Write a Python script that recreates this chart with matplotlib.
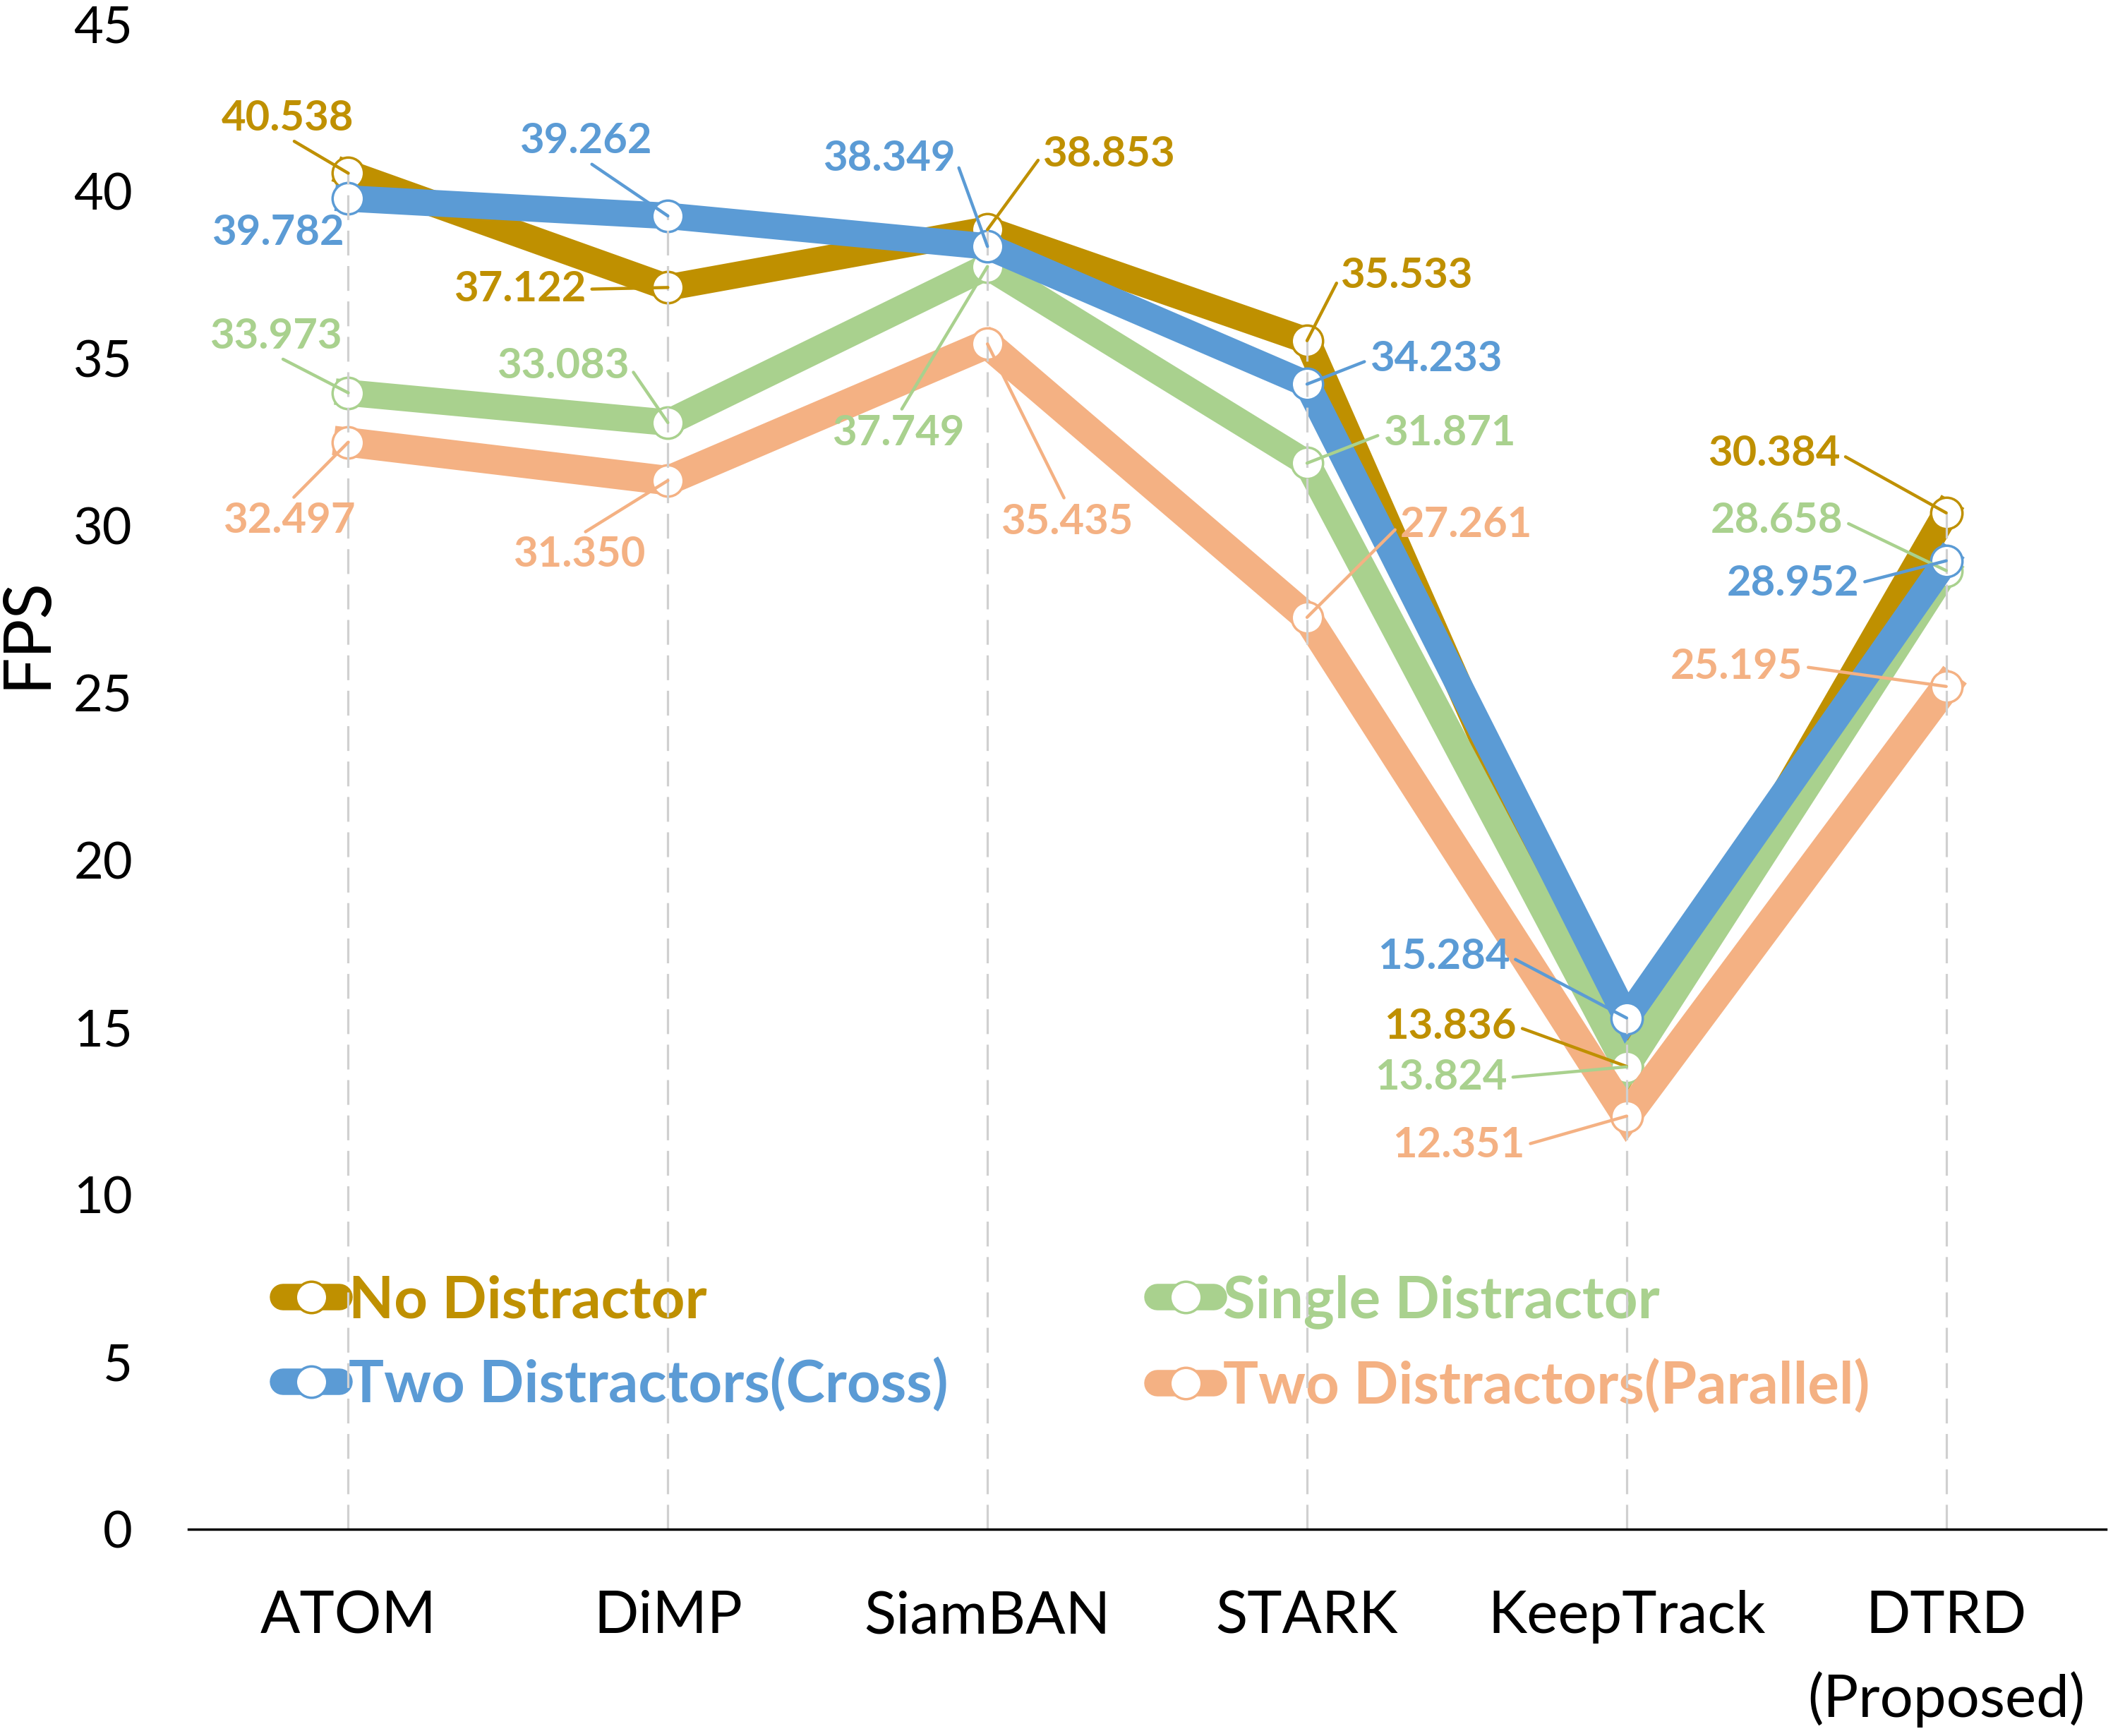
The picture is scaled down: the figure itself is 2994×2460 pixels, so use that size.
import matplotlib
matplotlib.use('Agg')
import matplotlib.pyplot as plt
from matplotlib.lines import Line2D

plt.rcParams['font.family'] = ['Lato', 'DejaVu Sans']

# data
methods = ['ATOM', 'DiMP', 'SiamBAN', 'STARK', 'KeepTrack', 'DTRD\n(Proposed)']
no_distractor = [40.538, 37.122, 38.853, 35.533, 13.836, 30.384]
single_distractor = [33.973, 33.083, 37.749, 31.871, 13.824, 28.658]
two_cross = [39.782, 39.262, 38.349, 34.233, 15.284, 28.952]
two_parallel = [32.497, 31.350, 35.435, 27.261, 12.351, 25.195]
series_names = ['No Distractor', 'Single Distractor',
                'Two Distractors(Cross)', 'Two Distractors(Parallel)']
yticks = [0, 5, 10, 15, 20, 25, 30, 35, 40, 45]

# style
c_gold = '#BF9000'
c_green = '#A9D18E'
c_blue = '#5B9BD5'
c_orange = '#F4B183'

# label placement (x, y, leader anchor on the text box)
gold_lbl = [(-0.19, 42.18, (0.5, 0)), (0.537, 37.07, (1, 0.5)), (2.379, 41.1, (0, 0.5)),
            (3.311, 37.47, (0, 0.5)), (3.449, 15.03, (1, 0.5)), (4.461, 32.15, (1, 0.5))]
green_lbl = [(-0.227, 35.66, (0.5, 0)), (0.672, 34.77, (1, 0.5)), (1.722, 32.76, (0.5, 1)),
             (3.446, 32.76, (0, 0.5)), (3.419, 13.5, (1, 0.5)), (4.47, 30.14, (1, 0.5))]
blue_lbl = [(-0.219, 38.76, None), (0.743, 41.5, (0.5, 0)), (1.693, 40.97, (1, 0.5)),
            (3.404, 34.97, (0, 0.5)), (3.428, 17.12, (1, 0.5)), (4.52, 28.28, (1, 0.5))]
orange_lbl = [(-0.185, 30.14, (0.5, 1)), (0.722, 29.13, (0.5, 1)), (2.248, 30.1, (0.5, 1)),
              (3.497, 30.02, (0, 0.5)), (3.474, 11.48, (1, 0.5)), (4.343, 25.79, (1, 0.5))]

fig = plt.figure(figsize=(29.94, 24.6), dpi=100)
ax = fig.add_axes([0.0892, 0.1191, 0.9075, 0.8671])

x = list(range(len(methods)))
series = [
    (no_distractor, c_gold, 27, 3, gold_lbl),
    (single_distractor, c_green, 27, 4, green_lbl),
    (two_cross, c_blue, 27, 5, blue_lbl),
    (two_parallel, c_orange, 30, 6, orange_lbl),
]

for vals, col, lw, z, lbls in series:
    ax.plot(x, vals, color=col, lw=lw, marker='o', ms=32, mfc='white',
            mec=col, mew=2.5, zorder=z, solid_joinstyle='miter')
    for i, v in enumerate(vals):
        lx, ly, rel = lbls[i]
        arrow = None
        if rel is not None:
            arrow = dict(arrowstyle='-', color=col, lw=3.2, shrinkA=4, shrinkB=0,
                         relpos=rel)
        ax.annotate('%.3f' % v, xy=(i, v), xytext=(lx, ly), ha='center', va='center',
                    fontsize=43, fontweight='bold', color=col,
                    arrowprops=arrow, zorder=9)

# drop lines
tops = [max(a, b, c, d) for a, b, c, d in
        zip(no_distractor, single_distractor, two_cross, two_parallel)]
ax.vlines(x, 0, tops, color='#D0D0D0', lw=2.3, linestyles=(0, (11, 4.7)), zorder=7)

ax.set_xlim(-0.5, len(methods) - 0.5)
ax.set_ylim(0, 45)
ax.set_yticks(yticks)
ax.set_xticks(x)
ax.set_xticklabels(methods, fontsize=60, linespacing=1.6)
ax.tick_params(axis='y', length=0, pad=57, labelsize=52)
ax.tick_params(axis='x', length=0, pad=62)
for s in ['left', 'right', 'top']:
    ax.spines[s].set_visible(False)
ax.spines['bottom'].set_linewidth(2.5)
ax.spines['bottom'].set_zorder(10)

fig.text(38 / 2994, 1 - 897 / 2460, 'FPS', rotation=90, fontsize=67,
         ha='center', va='center')

handles = [Line2D([], [], color=c, lw=27, solid_capstyle='round', marker='o', ms=32,
                  mfc='white', mec=c, mew=2.5)
           for c in [c_gold, c_blue, c_green, c_orange]]
labels = [series_names[0], series_names[2], series_names[1], series_names[3]]
ax.legend(handles, labels, ncol=2, loc='upper left', bbox_to_anchor=(0.0493, 0.169),
          frameon=False, prop={'size': 60, 'weight': 'bold'}, handlelength=0.96,
          handletextpad=0.16, columnspacing=3.55, labelspacing=0.5, borderpad=0,
          borderaxespad=0, labelcolor=[c_gold, c_blue, c_green, c_orange])

fig.savefig('out.png', dpi=100)
